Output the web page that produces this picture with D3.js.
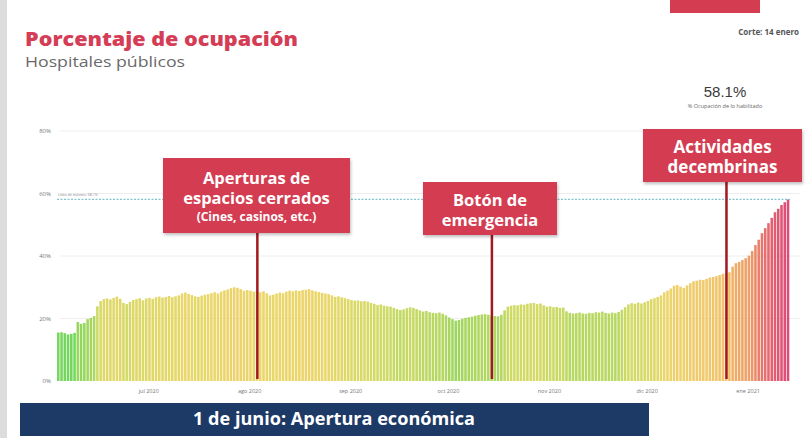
<!DOCTYPE html>
<html>
<head>
<meta charset="utf-8">
<script src="https://cdn.jsdelivr.net/npm/d3@7"></script>
<style>
  html, body { margin: 0; padding: 0; background: #fff; }
  svg { display: block; font-family: "Open Sans", "DejaVu Sans", sans-serif; }
</style>
</head>
<body>
<div id="plot"></div>
<script>
// daily occupancy (%), 3 jun 2020 -> 13 ene 2021
var occJun = [15.5, 15.6, 15.3, 14.9, 15.1, 15.4, 18.9, 18.3, 18.6, 19.8, 20.2, 20.8, 23.9, 25.6,
              26.2, 26.4, 26.1, 26.6, 27.0, 26.3, 25.0, 24.6, 25.3, 25.9, 26.2, 26.5, 25.8, 26.4];
var occJul = [26.6, 26.3, 26.8, 27.0, 26.7, 26.9, 27.2, 26.8, 27.1, 27.4, 28.0, 28.3, 27.9, 27.5, 27.1, 26.9,
              27.3, 27.6, 27.8, 28.1, 28.4, 28.0, 28.6, 29.0, 29.3, 29.7, 30.0, 29.8, 29.4, 28.9, 29.1];
var occAgo = [28.9, 28.6, 28.8, 28.4, 28.7, 28.1, 27.4, 27.6, 28.0, 28.3, 28.1, 28.6, 28.9, 28.7, 29.0, 28.8,
              29.1, 29.2, 29.4, 29.0, 28.7, 28.5, 28.2, 28.0, 27.8, 27.4, 26.9, 27.1, 26.8, 26.5, 26.2];
var occSep = [25.9, 25.7, 25.8, 25.5, 25.6, 25.4, 25.0, 24.7, 24.3, 24.5, 24.1, 23.9, 23.8, 23.4, 23.0,
              22.7, 22.9, 23.3, 23.6, 23.4, 23.0, 22.6, 22.2, 22.4, 22.0, 21.8, 21.7, 21.9, 21.5, 21.0];
var occOct = [20.3, 19.8, 19.3, 19.5, 19.9, 20.2, 20.4, 20.6, 20.9, 21.1, 21.3, 21.4, 21.2, 21.0, 20.8, 20.7,
              21.2, 22.6, 23.8, 24.1, 24.3, 24.2, 24.5, 24.4, 24.7, 24.9, 25.0, 24.6, 24.8, 24.2, 23.8];
var occNov = [23.9, 23.6, 23.7, 23.4, 23.5, 22.3, 21.8, 21.6, 21.7, 21.9, 21.6, 21.5, 21.8, 21.7, 22.0,
              21.9, 22.2, 21.8, 21.6, 21.9, 21.7, 22.1, 22.8, 23.6, 24.5, 24.9, 24.7, 25.1, 24.8, 25.2];
var occDic = [25.6, 26.2, 26.5, 26.9, 27.4, 28.4, 28.9, 29.6, 30.5, 30.7, 30.2, 29.8, 30.6, 31.3, 31.9, 32.1,
              32.4, 32.3, 32.7, 33.1, 33.3, 33.5, 33.9, 34.3, 34.5, 34.8, 36.6, 37.7, 38.1, 38.7, 39.3];
var occEne = [40.1, 41.6, 43.5, 45.2, 47.3, 48.9, 50.5, 52.2, 54.0, 55.1, 56.3, 57.2, 58.1];

var firstDay = new Date(2020, 5, 3);
var maxLine = 58.1;
var yTicks = [0, 20, 40, 60, 80];
var monthTicks = [new Date(2020, 6, 1), new Date(2020, 7, 1), new Date(2020, 8, 1), new Date(2020, 9, 1),
                  new Date(2020, 10, 1), new Date(2020, 11, 1), new Date(2021, 0, 1)];
var monthNames = ["ene", "feb", "mar", "abr", "may", "jun", "jul", "ago", "sep", "oct", "nov", "dic"];

var eventDates = [new Date(2020, 7, 3), new Date(2020, 9, 14), new Date(2020, 11, 25)];
var eventLabels = [
    ["Aperturas de", "espacios cerrados", "(Cines, casinos, etc.)"],
    ["Botón de", "emergencia"],
    ["Actividades", "decembrinas"]
];

var view = {
    w: 809, h: 438,
    x0: 57, x1: 790,
    y0: 381, y1: 131,
    boxes: [
        {x: 163, y: 158, w: 187, h: 75, lineY: [184, 204, 221], size: [16.5, 16.5, 12]},
        {x: 423, y: 182, w: 134, h: 53, lineY: [206, 226], size: [16.5, 16.5]},
        {x: 643, y: 129, w: 159, h: 53, lineY: [153, 173], size: [17, 17]}
    ]
};

var values = [].concat(occJun, occJul, occAgo, occSep, occOct, occNov, occDic, occEne);
var data = values.map(function(v, i){
    return {date: d3.timeDay.offset(firstDay, i), value: v};
});
var lastDay = d3.timeDay.offset(firstDay, values.length);

var svg = d3.select("#plot")
            .append("svg")
            .attr("width", view.w)
            .attr("height", view.h);

var defs = svg.append("defs");
var shadow = defs.append("filter").attr("id", "shadow")
    .attr("x", "-10%").attr("y", "-10%").attr("width", "130%").attr("height", "140%");
shadow.append("feDropShadow")
    .attr("dx", 1).attr("dy", 2).attr("stdDeviation", 1.5)
    .attr("flood-color", "#000").attr("flood-opacity", 0.25);

// left grey strip + top-right red tab
svg.append("rect").attr("x", 0).attr("y", 0).attr("width", 7).attr("height", view.h).style("fill", "#dcdcdc");
svg.append("rect").attr("x", 670).attr("y", -4).attr("width", 90).attr("height", 17).style("fill", "#d43d51");

// titles
svg.append("text")
    .attr("x", 25).attr("y", 46)
    .attr("textLength", 273).attr("lengthAdjust", "spacingAndGlyphs")
    .style("font-size", "20px").style("font-weight", 800).style("fill", "#d43d55")
    .text("Porcentaje de ocupación");
svg.append("text")
    .attr("x", 25).attr("y", 67)
    .attr("textLength", 160).attr("lengthAdjust", "spacingAndGlyphs")
    .style("font-size", "14.5px").style("font-weight", 500).style("fill", "#6a6a6a")
    .text("Hospitales públicos");

svg.append("text")
    .attr("x", 799).attr("y", 35).attr("text-anchor", "end")
    .style("font-size", "8px").style("font-weight", 700).style("fill", "#555")
    .text("Corte: 14 enero");
svg.append("text")
    .attr("x", 725).attr("y", 97).attr("text-anchor", "middle")
    .style("font-family", "'Liberation Sans', Arial, sans-serif")
    .style("font-size", "15px").style("fill", "#3a3a3a")
    .text(d3.format(".1f")(values[values.length - 1]) + "%");
svg.append("text")
    .attr("x", 725).attr("y", 108).attr("text-anchor", "middle")
    .style("font-size", "5.5px").style("fill", "#666")
    .text("% Ocupación de lo habilitado");

// scales
var x = d3.scaleTime().domain([firstDay, lastDay]).range([view.x0, view.x1]);
var y = d3.scaleLinear().domain([0, 80]).range([view.y0, view.y1]);
var color = d3.scaleLinear()
    .domain([15, 20, 24, 28, 33, 38, 45, 52, 58])
    .range(["#62d14a", "#9ad24e", "#c9d654", "#e8d35a", "#efc25b", "#eea057", "#e6735a", "#e0505f", "#d93a6a"])
    .clamp(true);

// grid
var g_grid = svg.append("g");
g_grid.selectAll("line")
    .data(yTicks.slice(1))
    .enter().append("line")
    .attr("x1", view.x0 + 3).attr("x2", 800)
    .attr("y1", function(d){ return y(d); })
    .attr("y2", function(d){ return y(d); })
    .style("stroke", "#eeeeee").style("stroke-width", 1);

var g_y = svg.append("g").attr("transform", "translate(51,0)")
    .call(d3.axisLeft(y).tickValues(yTicks).tickSize(0).tickPadding(0)
        .tickFormat(function(d){ return d + "%"; }));
g_y.select(".domain").remove();
g_y.selectAll("text").style("font-size", "6px").style("fill", "#777").style("font-family", "'Open Sans', sans-serif");

// bars
var g_bars = svg.append("g");
g_bars.selectAll(".bar")
    .data(data)
    .enter().append("rect")
    .attr("class", "bar")
    .attr("x", function(d){ return x(d.date); })
    .attr("y", function(d){ return y(d.value); })
    .attr("width", function(d){ return x(d3.timeDay.offset(d.date, 1)) - x(d.date) - 0.7; })
    .attr("height", function(d){ return y(0) - y(d.value); })
    .style("fill", function(d){ return color(d.value); })
    .style("opacity", 0.9);

// max line
svg.append("line")
    .attr("x1", view.x0).attr("x2", view.x1)
    .attr("y1", y(maxLine)).attr("y2", y(maxLine))
    .style("stroke", "#7fc6cf").style("stroke-width", 1.3).style("stroke-dasharray", "2,1.5");
svg.append("text")
    .attr("x", 58).attr("y", y(maxLine) - 3)
    .style("font-size", "3.5px").style("fill", "#888")
    .text("Línea de máximo: " + maxLine + "%");

// x axis
var g_x = svg.append("g").attr("transform", "translate(0," + (view.y0 + 8) + ")")
    .call(d3.axisBottom(x).tickValues(monthTicks).tickSize(0).tickPadding(0)
        .tickFormat(function(d){ return monthNames[d.getMonth()] + " " + d.getFullYear(); }));
g_x.select(".domain").remove();
g_x.selectAll("text").style("font-size", "5.5px").style("fill", "#777").style("font-family", "'Open Sans', sans-serif");

// event markers
var g_events = svg.append("g");
eventDates.forEach(function(dt, i){
    var b = view.boxes[i];
    var cx = x(dt) + (x(d3.timeDay.offset(dt, 1)) - x(dt)) / 2;
    g_events.append("line")
        .attr("x1", cx).attr("x2", cx)
        .attr("y1", b.y + b.h).attr("y2", y(0) - 2)
        .style("stroke", "#a3171f").style("stroke-width", 2.5);
    g_events.append("rect")
        .attr("x", b.x).attr("y", b.y).attr("width", b.w).attr("height", b.h)
        .attr("filter", "url(#shadow)")
        .style("fill", "#d43d51");
    eventLabels[i].forEach(function(t, j){
        g_events.append("text")
            .attr("x", b.x + b.w / 2).attr("y", b.lineY[j])
            .attr("text-anchor", "middle")
            .style("font-size", b.size[j] + "px").style("font-weight", 700).style("fill", "#fff")
            .text(t);
    });
});

// bottom banner
svg.append("rect").attr("x", 20).attr("y", 403).attr("width", 629).attr("height", 33).style("fill", "#1d3a66");
svg.append("text")
    .attr("x", 334).attr("y", 425).attr("text-anchor", "middle")
    .attr("textLength", 282).attr("lengthAdjust", "spacingAndGlyphs")
    .style("font-size", "17px").style("font-weight", 700).style("fill", "#fff")
    .text("1 de junio: Apertura económica");
</script>
</body>
</html>
